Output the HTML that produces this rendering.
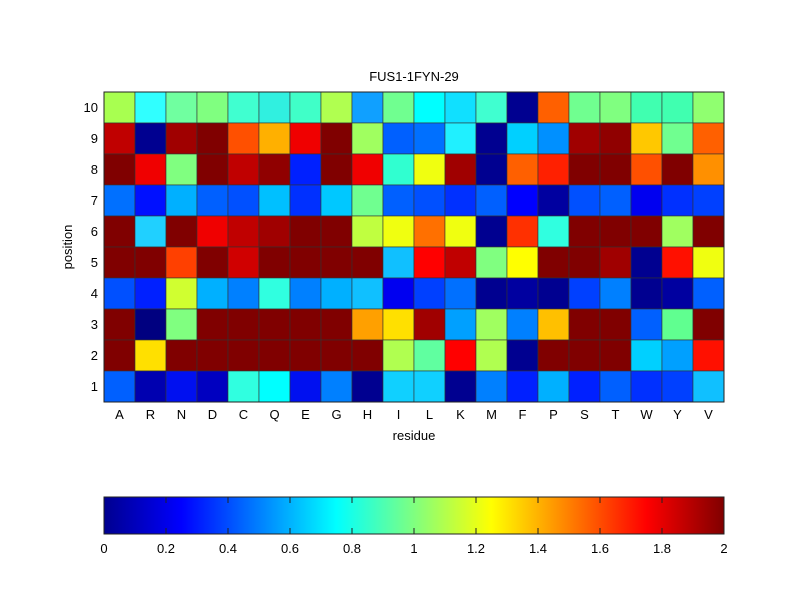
<!DOCTYPE html>
<html><head><style>body{margin:0;background:#fff}svg{display:block;font-family:"Liberation Sans",Arial,sans-serif}</style></head>
<body>
<svg width="800" height="600" xmlns="http://www.w3.org/2000/svg">
<defs><linearGradient id="jet" x1="0" x2="1" y1="0" y2="0">
<stop offset="0" stop-color="#00008f"/><stop offset="0.125" stop-color="#0000ff"/><stop offset="0.375" stop-color="#00ffff"/><stop offset="0.625" stop-color="#ffff00"/><stop offset="0.875" stop-color="#ff0000"/><stop offset="1" stop-color="#800000"/></linearGradient></defs>
<rect width="800" height="600" fill="#fff"/>
<g id="cells" stroke="#333" stroke-width="0.6"></g>
<rect x="104" y="92" width="620" height="310" fill="none" stroke="#222" stroke-width="1"/>
<text x="414" y="81" font-size="13" text-anchor="middle">FUS1-1FYN-29</text>
<g id="lab" font-size="13"></g>
<text x="414" y="440" font-size="13" text-anchor="middle">residue</text>
<text transform="translate(72,247) rotate(-90)" font-size="13" text-anchor="middle">position</text>
<rect x="104" y="497" width="620" height="37" fill="url(#jet)" stroke="#222" stroke-width="1"/>
<g id="cb" font-size="13"></g>
<script>
var R=[
["#a8ff50","#30ffff","#70ffa0","#80ff80","#40ffd0","#30f0e0","#40ffc8","#b0ff50","#10a0ff","#70ff90","#00ffff","#10e0ff","#40ffd0","#000090","#ff6000","#70ff90","#80ff80","#40ffb0","#40ffb0","#90ff70"],
["#c00000","#000090","#a00000","#800000","#ff5000","#ffb000","#f00000","#800000","#a0ff60","#0060ff","#0070ff","#20f0ff","#000090","#00d0ff","#0090ff","#a00000","#900000","#ffc800","#70ff90","#ff6000"],
["#800000","#f00000","#80ff80","#800000","#c00000","#900000","#0020ff","#800000","#f00000","#30ffd0","#f0ff10","#a00000","#000090","#ff6000","#ff2000","#800000","#800000","#ff5000","#800000","#ff9000"],
["#0070ff","#0010ff","#00b0ff","#0060ff","#0050ff","#00c0ff","#0030ff","#00c8ff","#70ff90","#0060ff","#0050ff","#0030ff","#0060ff","#0000ff","#0000a0","#0050ff","#0060ff","#0000f0","#0030ff","#0040ff"],
["#800000","#20d0ff","#800000","#f00000","#c00000","#a00000","#800000","#800000","#c0ff40","#f0ff10","#ff7000","#f0ff10","#000090","#ff3000","#30ffe0","#800000","#800000","#800000","#a0ff60","#800000"],
["#800000","#800000","#ff4000","#800000","#d00000","#800000","#800000","#800000","#800000","#10c0ff","#ff0000","#c00000","#80ff80","#ffff00","#800000","#800000","#a00000","#000090","#ff1000","#f0ff10"],
["#0050ff","#0020ff","#d0ff30","#00b0ff","#0080ff","#30ffe0","#0080ff","#00b0ff","#10c0ff","#0000f0","#0040ff","#0070ff","#000090","#0000a0","#000090","#0040ff","#0080ff","#000090","#0000a0","#0060ff"],
["#800000","#000080","#80ff80","#800000","#800000","#800000","#800000","#800000","#ffa000","#ffe000","#a00000","#00a0ff","#a0ff60","#0080ff","#ffc000","#800000","#800000","#0060ff","#60ff90","#800000"],
["#800000","#ffe000","#800000","#800000","#800000","#800000","#800000","#800000","#800000","#b0ff50","#60ffa0","#ff0000","#b0ff50","#000090","#800000","#800000","#800000","#00d0ff","#00a0ff","#ff1000"],
["#0060ff","#0000b0","#0010f0","#0000c0","#30ffe0","#00ffff","#0010f0","#0080ff","#000090","#10d0ff","#10d0ff","#000090","#0080ff","#0020ff","#00b0ff","#0020ff","#0060ff","#0030ff","#0040ff","#10c0ff"]];
var NS="http://www.w3.org/2000/svg",g=document.getElementById("cells"),L=document.getElementById("lab"),cb=document.getElementById("cb");
function el(p,t,a,s){var e=document.createElementNS(NS,t);for(var k in a)e.setAttribute(k,a[k]);if(s!=null)e.textContent=s;p.appendChild(e);}
for(var r=0;r<10;r++)for(var c=0;c<20;c++)el(g,"rect",{x:104+31*c,y:92+31*r,width:31,height:31,fill:R[r][c]});
var res="ARNDCQEGHILKMFPSTWYV";
for(var c=0;c<20;c++)el(L,"text",{x:119.5+31*c,y:419,"text-anchor":"middle"},res[c]);
for(var r=0;r<10;r++)el(L,"text",{x:98,y:112+31*r,"text-anchor":"end"},String(10-r));
var labs=["0","0.2","0.4","0.6","0.8","1","1.2","1.4","1.6","1.8","2"];
for(var i=0;i<=10;i++){var x=104+62*i;el(cb,"text",{x:x,y:553,"text-anchor":"middle"},labs[i]);
if(i>0&&i<10){el(cb,"line",{x1:x,x2:x,y1:497,y2:503,stroke:"#222"});el(cb,"line",{x1:x,x2:x,y1:528,y2:534,stroke:"#222"});}}
</script>
</svg>
</body></html>
